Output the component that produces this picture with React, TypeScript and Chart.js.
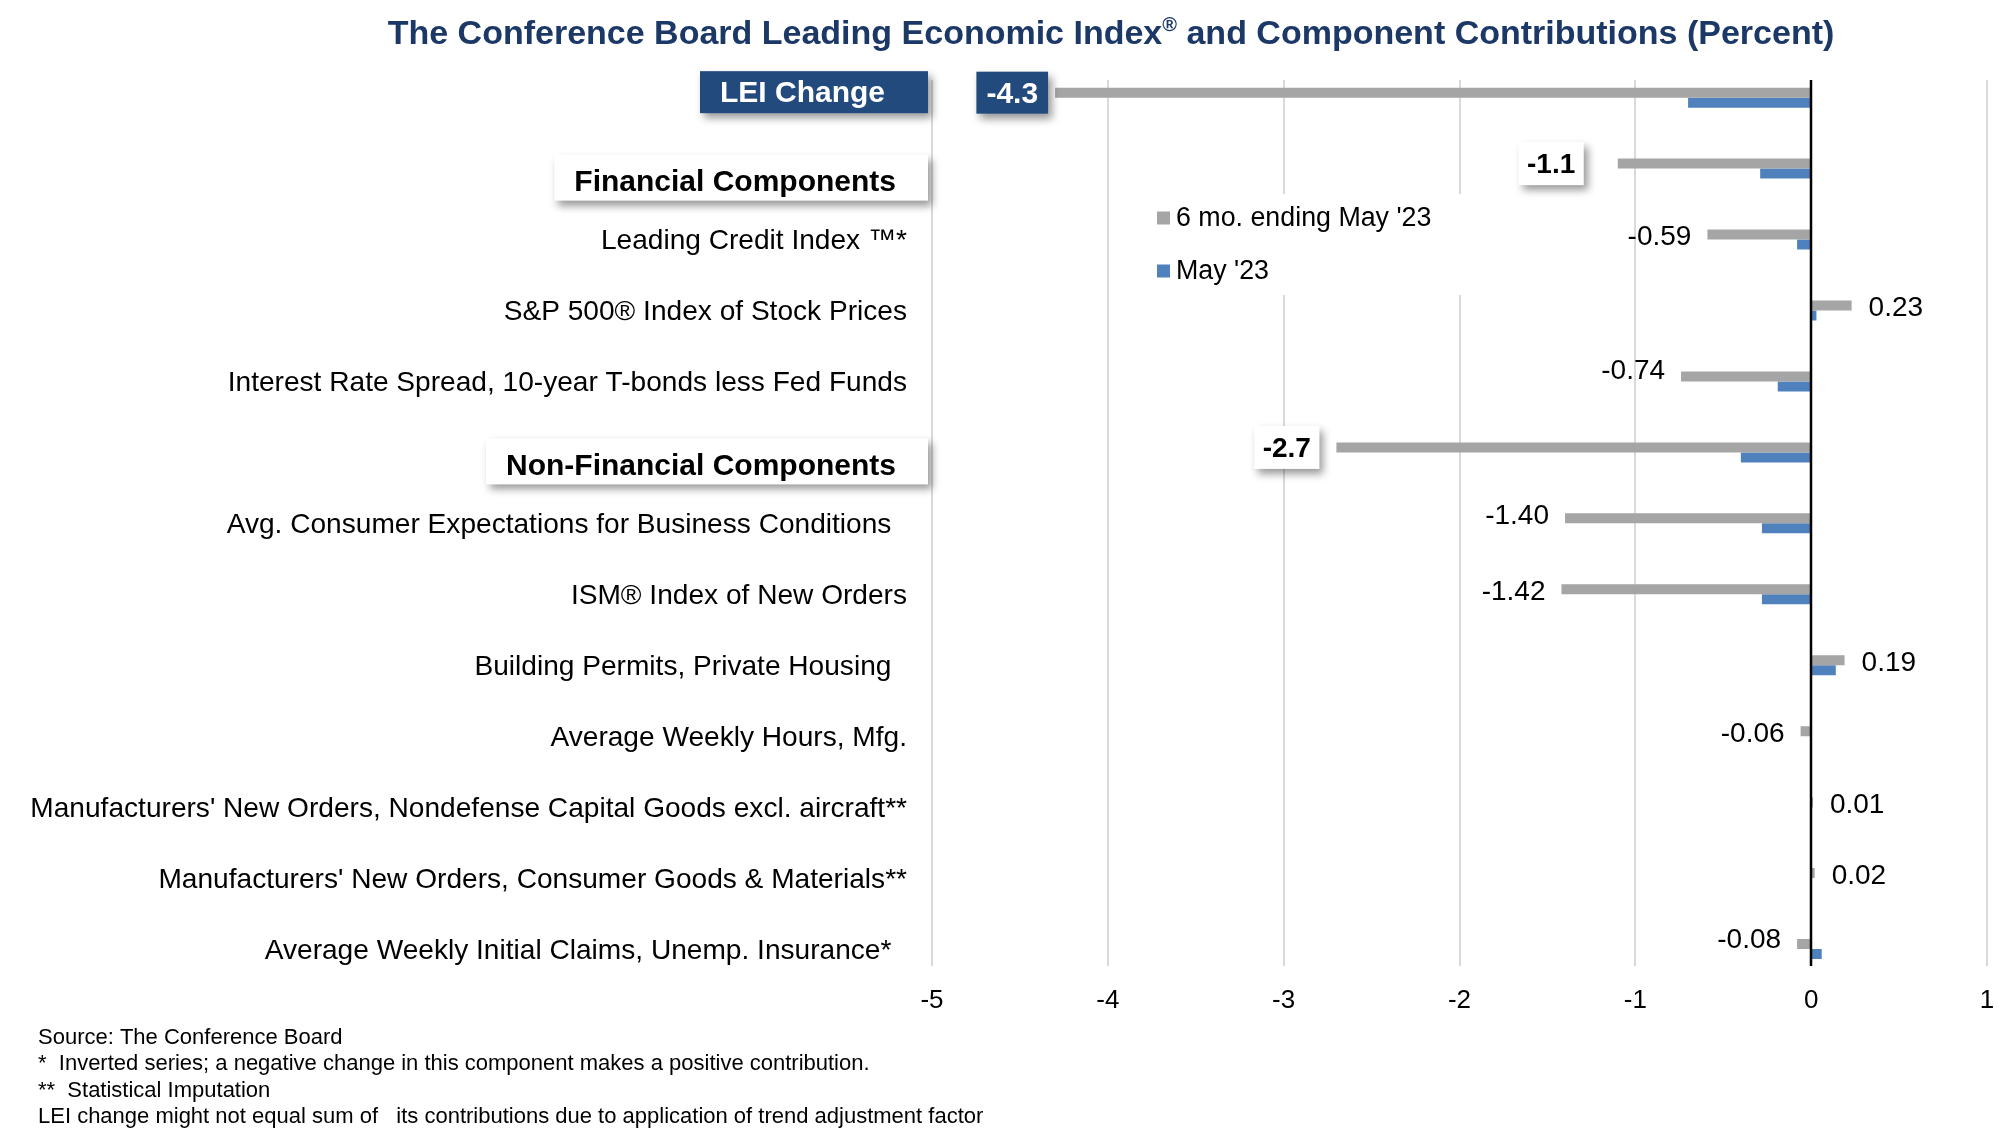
import { useEffect, useRef } from 'react';
import { Chart, registerables } from 'chart.js';

Chart.register(...registerables);

const FONT = "'Liberation Sans', Arial, Helvetica, sans-serif";

// ---------------- data ----------------
const categories = [
  'LEI Change',
  'Financial Components',
  'Leading Credit Index \u2122*',
  'S&P 500\u00AE Index of Stock Prices',
  'Interest Rate Spread, 10-year T-bonds less Fed Funds',
  'Non-Financial Components',
  'Avg. Consumer Expectations for Business Conditions  ',
  'ISM\u00AE Index of New Orders',
  'Building Permits, Private Housing  ',
  'Average Weekly Hours, Mfg.',
  "Manufacturers' New Orders, Nondefense Capital Goods excl. aircraft**",
  "Manufacturers' New Orders, Consumer Goods & Materials**",
  'Average Weekly Initial Claims, Unemp. Insurance*  ',
];
const rowKinds = ['lei', 'header', 'item', 'item', 'item', 'header', 'item', 'item', 'item', 'item', 'item', 'item', 'item'];
const seriesNames = ["6 mo. ending May '23", "May '23"];
const sixMonth = [-4.3, -1.1, -0.59, 0.23, -0.74, -2.7, -1.4, -1.42, 0.19, -0.06, 0.01, 0.02, -0.08];
const mayValues = [-0.7, -0.29, -0.08, 0.03, -0.19, -0.4, -0.28, -0.28, 0.14, 0.0, 0.0, 0.0, 0.06];
const sixMonthLabels = ['-4.3', '-1.1', '-0.59', '0.23', '-0.74', '-2.7', '-1.40', '-1.42', '0.19', '-0.06', '0.01', '0.02', '-0.08'];
const xTicks = [-5, -4, -3, -2, -1, 0, 1];
const titleParts = ['The Conference Board Leading Economic Index', '\u00AE', ' and Component Contributions (Percent)'];
const footnotes = [
  'Source: The Conference Board',
  '*  Inverted series; a negative change in this component makes a positive contribution.',
  '**  Statistical Imputation',
  'LEI change might not equal sum of   its contributions due to application of trend adjustment factor',
];

// ---------------- styling / layout ----------------
const GRAY = '#A5A5A5';
const BLUE = '#4F81BD';
const NAVY = '#234A7C';
const TITLE_COLOR = '#1B3866';
const GRID_TOP = 80;
const GRID_BOTTOM = 966;
const boxGap: Record<number, number> = { 0: 7, 1: 34, 5: 17 };
const labelDy = [0, 0, 0, 0, -8, 0, -5, 0, 0, 0, 0, 0, -7];

const overlay = {
  id: 'overlay',
  beforeDatasetsDraw(chart: any) {
    const ctx = chart.ctx;
    const xs = chart.scales.x;
    ctx.save();
    ctx.strokeStyle = '#D9D9D9';
    ctx.lineWidth = 2;
    xTicks.forEach((v) => {
      if (v === 0) return;
      const px = Math.round(xs.getPixelForValue(v));
      ctx.beginPath();
      ctx.moveTo(px, GRID_TOP);
      ctx.lineTo(px, GRID_BOTTOM);
      ctx.stroke();
    });
    ctx.restore();
  },
  afterDatasetsDraw(chart: any) {
    const ctx = chart.ctx;
    const xs = chart.scales.x;
    const ys = chart.scales.y;
    ctx.save();
    // zero line
    const zx = Math.round(xs.getPixelForValue(0));
    ctx.strokeStyle = '#000';
    ctx.lineWidth = 2.5;
    ctx.beginPath();
    ctx.moveTo(zx, GRID_TOP);
    ctx.lineTo(zx, GRID_BOTTOM);
    ctx.stroke();

    // legend
    ctx.fillStyle = '#fff';
    ctx.fillRect(1140, 194, 330, 101);
    const legendY = [218, 271];
    chart.data.datasets.forEach((ds: any, i: number) => {
      ctx.fillStyle = ds.backgroundColor;
      ctx.fillRect(1157, legendY[i] - 6.5, 13, 13);
      ctx.fillStyle = '#000';
      ctx.font = `26.8px ${FONT}`;
      ctx.textAlign = 'left';
      ctx.textBaseline = 'middle';
      ctx.fillText(ds.label, 1176, legendY[i] + 1);
    });

    // value labels
    const meta = chart.getDatasetMeta(0);
    meta.data.forEach((bar: any, i: number) => {
      const { x: endX, y: cy } = bar.getProps(['x', 'y'], true);
      const txt = sixMonthLabels[i];
      const kind = rowKinds[i];
      if (kind === 'item') {
        ctx.font = `28px ${FONT}`;
        ctx.fillStyle = '#000';
        ctx.textBaseline = 'middle';
        if (sixMonth[i] < 0) {
          ctx.textAlign = 'right';
          ctx.fillText(txt, endX - 16, cy + 3 + labelDy[i]);
        } else {
          ctx.textAlign = 'left';
          ctx.fillText(txt, endX + 17, cy + 3 + labelDy[i]);
        }
      } else {
        const isLei = kind === 'lei';
        ctx.font = `bold ${isLei ? 30 : 28}px ${FONT}`;
        const tw = ctx.measureText(txt).width;
        const w = tw + (isLei ? 20 : 17);
        const h = isLei ? 42 : 43;
        const right = endX - boxGap[i];
        const left = right - w;
        const top = cy - h / 2;
        ctx.save();
        ctx.shadowColor = 'rgba(0,0,0,0.4)';
        ctx.shadowBlur = 8;
        ctx.shadowOffsetX = 4;
        ctx.shadowOffsetY = 5;
        ctx.fillStyle = isLei ? NAVY : '#fff';
        ctx.fillRect(left, top, w, h);
        ctx.restore();
        ctx.fillStyle = isLei ? '#fff' : '#000';
        ctx.textAlign = 'center';
        ctx.textBaseline = 'middle';
        ctx.fillText(txt, left + w / 2, cy + 2);
      }
    });

    // header boxes on the category side
    categories.forEach((name, i) => {
      const kind = rowKinds[i];
      if (kind === 'item') return;
      const rowY = ys.getPixelForValue(i);
      ctx.font = `bold 30px ${FONT}`;
      const tw = ctx.measureText(name).width;
      let textRight: number, boxRight: number, cy: number, h: number;
      if (kind === 'lei') {
        textRight = 885; boxRight = 928; cy = rowY - 5.5; h = 42;
      } else {
        textRight = 896; boxRight = 928; cy = rowY + 9; h = 46;
      }
      const left = textRight - tw - 20;
      ctx.save();
      ctx.shadowColor = 'rgba(0,0,0,0.4)';
      ctx.shadowBlur = 8;
      ctx.shadowOffsetX = 4;
      ctx.shadowOffsetY = 5;
      ctx.fillStyle = kind === 'lei' ? NAVY : '#fff';
      ctx.fillRect(left, cy - h / 2, boxRight - left, h);
      ctx.restore();
      ctx.fillStyle = kind === 'lei' ? '#fff' : '#000';
      ctx.textAlign = 'right';
      ctx.textBaseline = 'middle';
      ctx.fillText(name, textRight, cy + (kind === 'lei' ? 2 : 5));
    });
    ctx.restore();
  },
  afterDraw(chart: any) {
    const ctx = chart.ctx;
    ctx.save();
    // title
    const big = `bold 34px ${FONT}`;
    const small = `bold 20px ${FONT}`;
    ctx.font = big;
    const w0 = ctx.measureText(titleParts[0]).width;
    const w2 = ctx.measureText(titleParts[2]).width;
    ctx.font = small;
    const w1 = ctx.measureText(titleParts[1]).width;
    const total = w0 + w1 + w2;
    let x = 1111 - total / 2;
    const base = 44;
    ctx.fillStyle = TITLE_COLOR;
    ctx.textAlign = 'left';
    ctx.textBaseline = 'alphabetic';
    ctx.font = big;
    ctx.fillText(titleParts[0], x, base);
    x += w0;
    ctx.font = small;
    ctx.fillText(titleParts[1], x, base - 13);
    x += w1;
    ctx.font = big;
    ctx.fillText(titleParts[2], x, base);

    // footnotes
    ctx.fillStyle = '#000';
    ctx.font = `22px ${FONT}`;
    footnotes.forEach((line, i) => {
      ctx.fillText(line, 38, 1044 + i * 26.3);
    });
    ctx.restore();
  },
};

export default function App() {
  const ref = useRef<HTMLCanvasElement>(null);
  useEffect(() => {
    if (!ref.current) return;
    const chart = new Chart(ref.current, {
      type: 'bar',
      data: {
        labels: categories,
        datasets: [
          { label: seriesNames[0], data: sixMonth, backgroundColor: GRAY, categoryPercentage: 0.282, barPercentage: 1 },
          { label: seriesNames[1], data: mayValues, backgroundColor: BLUE, categoryPercentage: 0.282, barPercentage: 1 },
        ],
      },
      options: {
        indexAxis: 'y',
        animation: false,
        responsive: false,
        layout: { padding: { top: 62.2, right: 29, bottom: 119.5, left: 0 } },
        plugins: { legend: { display: false }, tooltip: { enabled: false }, title: { display: false } },
        scales: {
          x: {
            type: 'linear',
            min: -5,
            max: 1,
            grid: { display: false, drawTicks: false },
            border: { display: false },
            afterBuildTicks: (s: any) => { s.ticks = xTicks.map((v) => ({ value: v })); },
            afterFit: (s: any) => { s.height = 40; },
            ticks: { padding: 1, color: '#000', font: { family: FONT, size: 26 }, callback: (v: any) => String(v) },
          },
          y: {
            type: 'category',
            offset: true,
            grid: { display: false, drawTicks: false },
            border: { display: false },
            afterFit: (s: any) => { s.width = 932; },
            ticks: {
              autoSkip: false,
              padding: 25,
              labelOffset: 2,
              color: '#000',
              font: { family: FONT, size: 28.1 },
              callback: (_v: any, i: number) => (rowKinds[i] === 'item' ? categories[i] : ''),
            },
          },
        },
      },
      plugins: [overlay],
    } as any);
    return () => chart.destroy();
  }, []);
  return (
    <div style={{ position: 'absolute', left: 0, top: 0, width: 2016, height: 1144, background: '#fff' }}>
      <canvas ref={ref} width={2016} height={1144} style={{ display: 'block', width: 2016, height: 1144 }} />
    </div>
  );
}
